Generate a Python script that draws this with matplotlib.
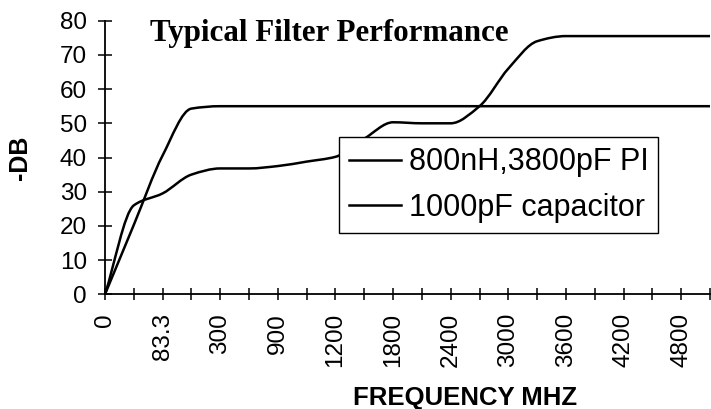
import numpy as np
import matplotlib
matplotlib.use("Agg")
import matplotlib.pyplot as plt
from matplotlib.path import Path
from matplotlib.patches import PathPatch
from matplotlib.lines import Line2D

plt.rcParams['font.family'] = ['Liberation Sans', 'DejaVu Sans']

# frequency categories (every other one is labelled)
freq_labels = ['0', '', '83.3', '', '300', '', '900', '', '1200', '', '1800', '',
               '2400', '', '3000', '', '3600', '', '4200', '', '4800', '']

# attenuation in -dB for each category
pi_filter = [0, 26, 29.5, 35, 36.8, 36.8, 37.5, 38.8, 40.2, 45.5, 50.3, 50,
             50, 55, 66, 74, 75.5, 75.5, 75.5, 75.5, 75.5, 75.5]
capacitor = [0, 20.3, 40.6, 54.3, 55, 55, 55, 55, 55, 55, 55, 55,
             55, 55, 55, 55, 55, 55, 55, 55, 55, 55]

series_names = ['800nH,3800pF PI', '1000pF capacitor']


def slopes(xs, ys):
    # monotone (Fritsch-Carlson) tangents so the smoothed line never overshoots
    d = np.diff(ys) / np.diff(xs)
    m = np.zeros(len(ys))
    m[0], m[-1] = d[0], d[-1]
    for i in range(1, len(ys) - 1):
        if d[i - 1] * d[i] > 0:
            m[i] = 2.0 / (1.0 / d[i - 1] + 1.0 / d[i])
    return m


def smooth_path(xs, ys):
    m = slopes(xs, ys)
    verts = [(xs[0], ys[0])]
    codes = [Path.MOVETO]
    for i in range(len(xs) - 1):
        dx = (xs[i + 1] - xs[i]) / 3.0
        verts += [(xs[i] + dx, ys[i] + m[i] * dx),
                  (xs[i + 1] - dx, ys[i + 1] - m[i + 1] * dx),
                  (xs[i + 1], ys[i + 1])]
        codes += [Path.CURVE4] * 3
    return Path(verts, codes)


fig = plt.figure(figsize=(7.11, 4.09), dpi=100)
ax = fig.add_axes([105 / 711, 1 - 294.3 / 409, 605 / 711, 273.6 / 409])

x = np.arange(len(freq_labels), dtype=float)
for vals in (pi_filter, capacitor):
    ax.add_patch(PathPatch(smooth_path(x, np.array(vals, dtype=float)),
                           facecolor='none', edgecolor='black', lw=1.8,
                           clip_on=False))

ax.set_xlim(0, len(freq_labels) - 1)
ax.set_ylim(0, 80)
ax.spines['top'].set_visible(False)
ax.spines['right'].set_visible(False)
ax.spines['left'].set_linewidth(1.3)
ax.spines['bottom'].set_linewidth(1.3)

ax.set_xticks(x)
ax.set_xticklabels(freq_labels, rotation=90, fontsize=17.5)
ax.set_yticks(np.arange(0, 81, 10))
ax.tick_params(axis='y', direction='inout', length=10, width=1.1,
               labelsize=17.5, pad=8)
ax.tick_params(axis='x', direction='inout', length=9, width=1.1, pad=9)

fig.text(150 / 711, 1 - 40.5 / 409, 'Typical Filter Performance',
         family='Liberation Serif', weight='bold', fontsize=22.3, va='baseline')
fig.text(465 / 711, 1 - 405 / 409, 'FREQUENCY MHZ', weight='bold',
         fontsize=18.5, ha='center', va='baseline')
fig.text(20 / 711, 1 - 158 / 409, '-DB', weight='bold', fontsize=18,
         rotation=90, ha='center', va='center')

handles = [Line2D([], [], color='black', lw=1.8) for _ in series_names]
leg = ax.legend(handles, series_names, loc='upper left',
                bbox_to_anchor=(339.3 / 711, 1 - 137.3 / 409),
                bbox_transform=fig.transFigure, fontsize=22, frameon=True,
                fancybox=False, edgecolor='black', framealpha=1,
                borderpad=0.33, handlelength=1.7, handletextpad=0.24,
                labelspacing=0.5, borderaxespad=0)
leg.get_frame().set_linewidth(1.0)

fig.savefig('out.png', dpi=100)
